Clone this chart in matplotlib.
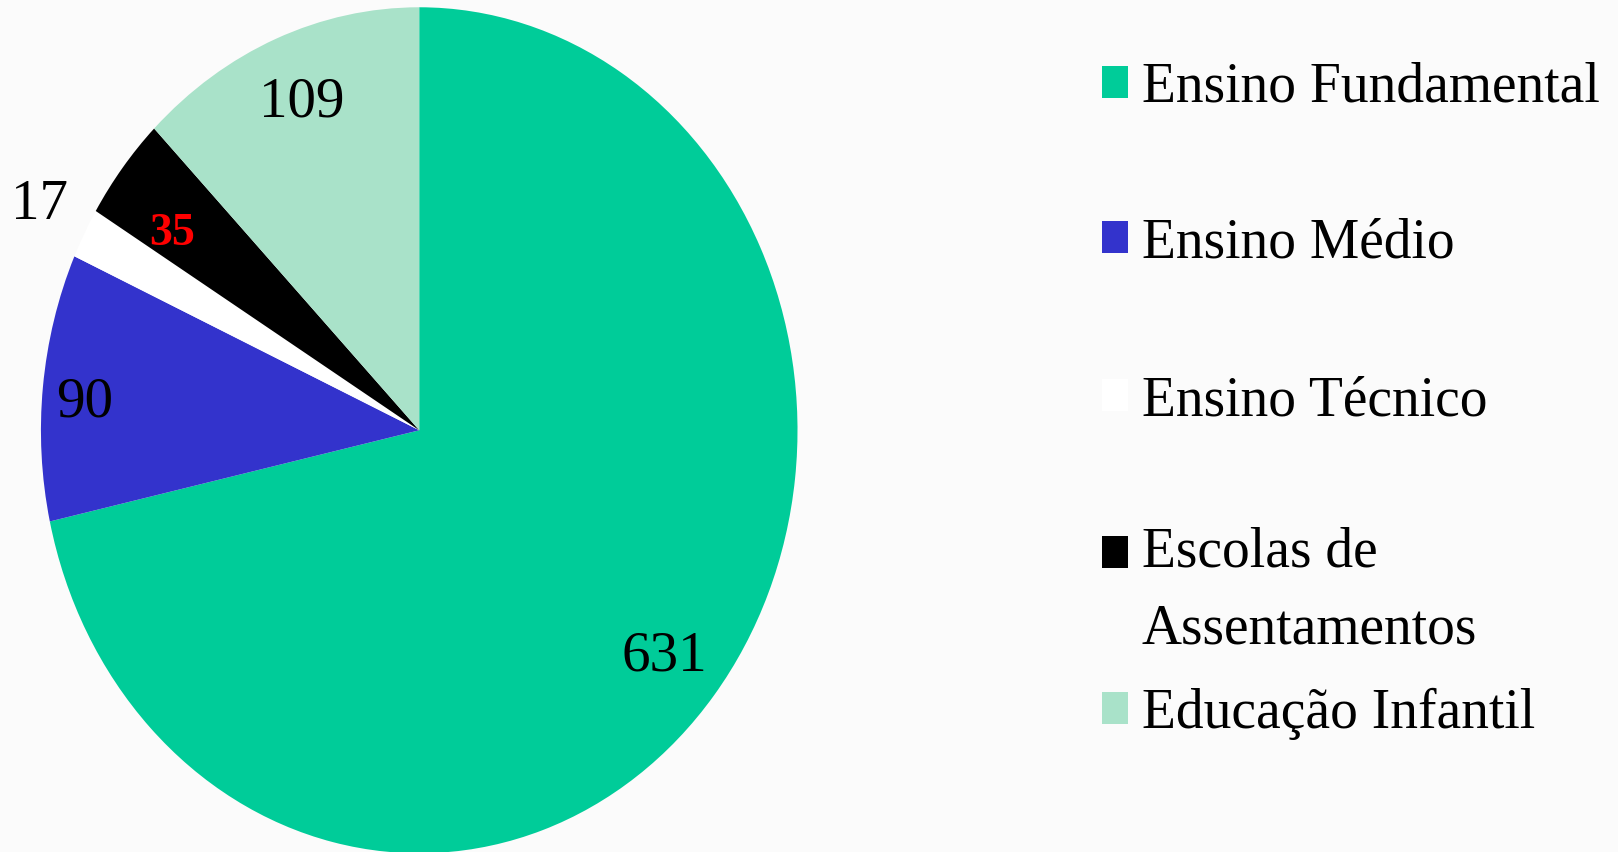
import matplotlib.pyplot as plt
import numpy as np
from matplotlib.patches import Rectangle

plt.rcParams['font.family'] = ['Liberation Serif', 'DejaVu Serif']

# Data
categories = ['Ensino Fundamental', 'Ensino Médio', 'Ensino Técnico',
              'Escolas de\nAssentamentos', 'Educação Infantil']
values = [631, 90, 17, 35, 109]
colors = ['#00CC99', '#3333CC', '#FFFFFF', '#000000', '#A9E2C9']

# label placement (fraction of radius + nudge in points) and styles
label_dist = [0.83, 0.89, 1.15, 0.81, 0.84]
label_nudge = [(0, -3.7), (0, -7.4), (3.7, 0), (-5.2, -11), (2.2, 0)]
label_colors = ['black', 'black', 'black', 'red', 'black']
label_weights = ['normal', 'normal', 'normal', 'bold', 'normal']

bg = '#fbfbfb'
fig = plt.figure(figsize=(16.18, 8.53), dpi=100, facecolor=bg)

# pie axes, stretched so the pie is an ellipse like the original
ax = fig.add_axes([0.0253, -0.0015, 0.4676, 0.9918])
wedges, _ = ax.pie(values, colors=colors, startangle=90, counterclock=False,
                   wedgeprops=dict(linewidth=0))
ax.set_aspect('auto')
ax.set_xlim(-1, 1)
ax.set_ylim(-1, 1)
ax.axis('off')

for w, v, d, nd, c, fw in zip(wedges, values, label_dist, label_nudge,
                              label_colors, label_weights):
    mid = np.deg2rad((w.theta1 + w.theta2) / 2)
    fs = 33 if fw == 'bold' else 41
    ax.annotate(str(v), xy=(d * np.cos(mid), d * np.sin(mid)), xytext=nd,
                textcoords='offset points', ha='center', va='center',
                fontsize=fs, color=c, fontweight=fw, annotation_clip=False)

# legend drawn by hand (big spaced rows, two-line entry)
W, H = 1618, 853
baselines = [102, 257, 415, 572, 728]
line_gap = 71
for lab, col, yb in zip(categories, colors, baselines):
    fig.add_artist(Rectangle((1102 / W, 1 - (yb - 3) / H), 26 / W, 32 / H,
                             transform=fig.transFigure, facecolor=col,
                             edgecolor='none'))
    # va='baseline' sits on the last line, so push multi-line labels down
    yl = yb + line_gap * lab.count('\n')
    fig.text(1142 / W, 1 - yl / H, lab, ha='left', va='baseline',
             fontsize=40, linespacing=1.62)

fig.savefig('out.png', dpi=100, facecolor=bg)
